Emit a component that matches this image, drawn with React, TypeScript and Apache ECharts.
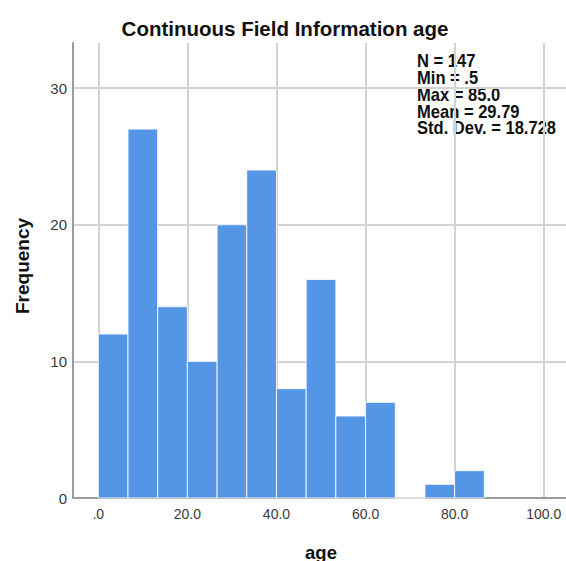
import React, { useEffect, useRef } from "react";
import * as echarts from "echarts";

const binStarts = [0, 6.67, 13.33, 20, 26.67, 33.33, 40, 46.67, 53.33, 60, 66.67, 73.33, 80];
const binEnds = [6.67, 13.33, 20, 26.67, 33.33, 40, 46.67, 53.33, 60, 66.67, 73.33, 80, 86.67];
const frequencies = [12, 27, 14, 10, 20, 24, 8, 16, 6, 7, 0, 1, 2];
const statsLines = ["N = 147", "Min = .5", "Max = 85.0", "Mean = 29.79", "Std. Dev. = 18.728"];
const titleText = "Continuous Field Information age";
const xName = "age";
const yName = "Frequency";

export default function App() {
  const ref = useRef<HTMLDivElement>(null);
  useEffect(() => {
    document.body.style.margin = "0";
    const chart = echarts.init(ref.current!, null, { renderer: "svg" });
    const data = binStarts.map((s, i) => [s, binEnds[i], frequencies[i]]);
    const font = "'Liberation Sans', Arial, sans-serif";
    chart.setOption({
      animation: false,
      grid: { left: 73, right: 0, top: 43, bottom: 63 },
      xAxis: {
        type: "value",
        min: -5.68,
        max: 105,
        splitNumber: 5,
        axisLine: { show: true, onZero: false, lineStyle: { color: "#9a9a9a", width: 2 } },
        axisTick: { show: false },
        axisLabel: {
          showMinLabel: false,
          showMaxLabel: false,
          margin: 9,
          color: "#3a3a3a",
          fontSize: 14,
          fontFamily: font,
          formatter: (v: number) => (v === 0 ? ".0" : v.toFixed(1)),
        },
        splitLine: { show: true, showMinLine: false, showMaxLine: false, lineStyle: { color: "#d3d3d3", width: 2 } },
      },
      yAxis: {
        type: "value",
        min: 0,
        max: 33.3,
        interval: 10,
        axisLine: { show: true, onZero: false, lineStyle: { color: "#9a9a9a", width: 2 } },
        axisTick: { show: false },
        axisLabel: {
          showMaxLabel: false,
          margin: 6,
          color: "#3a3a3a",
          fontSize: 15,
          fontFamily: font,
        },
        splitLine: { show: true, showMinLine: false, showMaxLine: false, lineStyle: { color: "#d3d3d3", width: 2 } },
      },
      series: [
        {
          type: "custom",
          data,
          renderItem: (params: any, api: any) => {
            const p0 = api.coord([api.value(0), 0]);
            const p1 = api.coord([api.value(1), api.value(2)]);
            return {
              type: "rect",
              shape: { x: p0[0], y: p1[1], width: p1[0] - p0[0], height: p0[1] - p1[1] },
              style: { fill: "#5595e5", stroke: "rgba(255,255,255,0.85)", lineWidth: 1 },
            };
          },
        },
      ],
      graphic: [
        {
          type: "text",
          x: 285,
          y: 28,
          style: {
            text: titleText,
            align: "center",
            verticalAlign: "middle",
            font: `bold 20.5px ${font}`,
            fill: "#111",
          },
        },
        {
          type: "text",
          x: 22,
          y: 266,
          rotation: Math.PI / 2,
          style: {
            text: yName,
            align: "center",
            verticalAlign: "middle",
            font: `bold 19px ${font}`,
            fill: "#111",
          },
        },
        {
          type: "text",
          x: 321,
          y: 552,
          style: {
            text: xName,
            align: "center",
            verticalAlign: "middle",
            font: `bold 18.5px ${font}`,
            fill: "#111",
          },
        },
        ...statsLines.map((t, i) => ({
          type: "text",
          x: 417,
          y: 61 + i * 16.8,
          scaleX: 0.92,
          style: {
            text: t,
            align: "left",
            verticalAlign: "middle",
            font: `bold 18px ${font}`,
            fill: "#111",
          },
        })),
      ],
    });
    return () => chart.dispose();
  }, []);
  return <div ref={ref} style={{ width: 566, height: 561 }} />;
}
